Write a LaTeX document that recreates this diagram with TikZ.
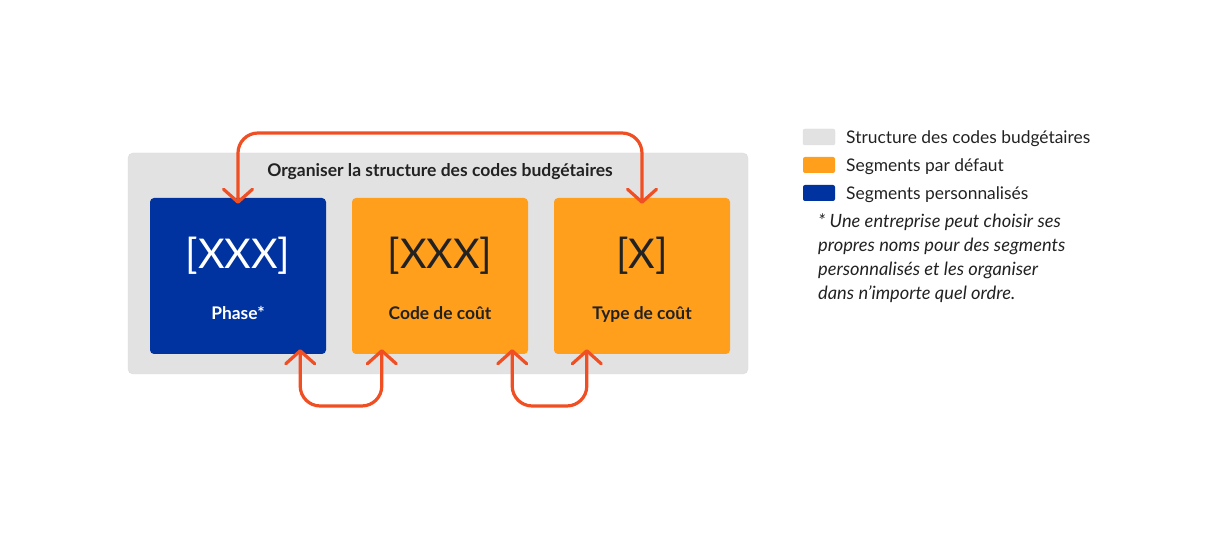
\documentclass[tikz,border=0pt]{standalone}
\usepackage{fontspec}
\setmainfont{Lato}
\usetikzlibrary{arrows.meta}
\definecolor{bgray}{RGB}{226,226,226}
\definecolor{bblue}{RGB}{0,50,160}
\definecolor{borange}{RGB}{255,159,28}
\definecolor{barrow}{RGB}{240,78,35}
\definecolor{btext}{RGB}{34,34,34}
\tikzset{
  segbox/.style={rounded corners=4pt, minimum width=176pt, minimum height=156pt, inner sep=0pt},
  swatch/.style={rounded corners=2pt, minimum width=32pt, minimum height=16pt, inner sep=0pt},
  loop/.style={draw=barrow, line width=3.2pt, rounded corners=20pt, line cap=round,
    {Straight Barb[length=13pt,width=29pt,round]}-{Straight Barb[length=13pt,width=29pt,round]}},
  bigtxt/.style={font=\fontsize{41}{44}\selectfont},
  labtxt/.style={font=\fontsize{17.4}{18}\selectfont\bfseries},
  legtxt/.style={font=\fontsize{17.4}{18}\selectfont, text=btext, anchor=west, inner sep=0pt},
}
\begin{document}
\begin{tikzpicture}[x=1pt,y=-1pt]
\useasboundingbox (0,0) rectangle (1219,537);
\node[fill=bgray, draw=bgray!85!black!20!bgray, rounded corners=5pt, minimum width=620pt, minimum height=221pt, inner sep=0pt] (struct) at (438,263.5) {};
\node[font=\fontsize{17.5}{18}\selectfont\bfseries, text=btext] (title) at (440,172) {Organiser la structure des codes budgétaires};
\node[segbox, fill=bblue] (phase) at (238,276) {};
\node[segbox, fill=borange] (code) at (440,276) {};
\node[segbox, fill=borange] (type) at (642,276) {};
\node[bigtxt, text=white] (phx) at (238,256) {[XXX]};
\node[labtxt, text=white] (phl) at (238,313) {Phase*};
\node[bigtxt, text=btext] (cox) at (440,256) {[XXX]};
\node[labtxt, text=btext] (col) at (440,313) {Code de coût};
\node[bigtxt, text=btext] (tyx) at (642,256) {[X]};
\node[labtxt, text=btext] (tyl) at (642,314) {Type de coût};
% arrows
\coordinate (a1) at ([yshift=-6pt]phase.north);
\coordinate (a2) at ([yshift=-6pt]type.north);
\draw[loop] (a1) -- (a1 |- 0,133) -- (a2 |- 0,133) -- (a2);
\coordinate (b1) at ([xshift=-26pt,yshift=5pt]phase.south east);
\coordinate (b2) at ([xshift=30pt,yshift=5pt]code.south west);
\draw[loop] (b1) -- (b1 |- 0,406) -- (b2 |- 0,406) -- (b2);
\coordinate (c1) at ([xshift=-16pt,yshift=5pt]code.south east);
\coordinate (c2) at ([xshift=33pt,yshift=5pt]type.south west);
\draw[loop] (c1) -- (c1 |- 0,406) -- (c2 |- 0,406) -- (c2);
% legend
\node[swatch, fill=bgray, draw=bgray!80!black!10!bgray] (s1) at (819,137) {};
\node[swatch, fill=borange] (s2) at (819,165) {};
\node[swatch, fill=bblue] (s3) at (819,193) {};
\node[legtxt] (l1) at (846,139) {Structure des codes budgétaires};
\node[legtxt] (l2) at (846,167) {Segments par défaut};
\node[legtxt] (l3) at (846,195) {Segments personnalisés};
\node[anchor=north west, inner sep=0pt, align=left, text=btext, font=\fontsize{18.3}{24}\selectfont\itshape] (note) at (818,214) {* Une entreprise peut choisir ses\\propres noms pour des segments\\personnalisés et les organiser\\dans n’importe quel ordre.};
\end{tikzpicture}
\end{document}
